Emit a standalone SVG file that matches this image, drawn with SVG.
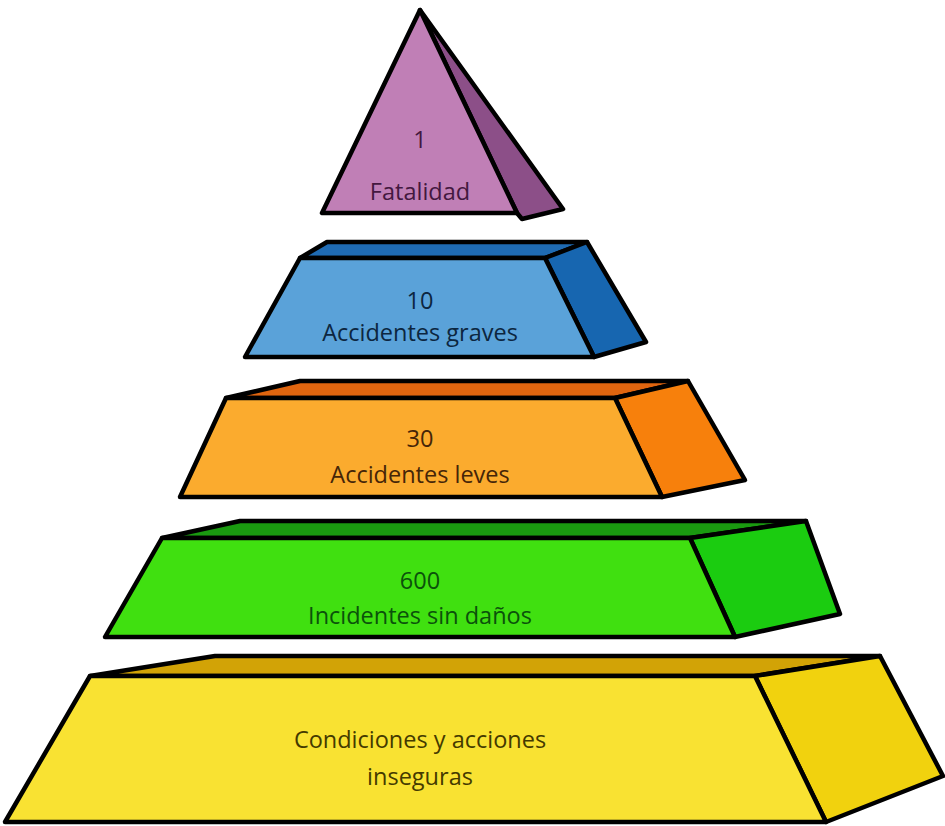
<svg xmlns="http://www.w3.org/2000/svg" width="945" height="826" viewBox="0 0 945 826">
<style>
.e{stroke:#000;stroke-width:4.5;stroke-linejoin:round}
.t{font-family:"Open Sans","Noto Sans",sans-serif;font-size:23.5px;text-anchor:middle}
</style>
<rect width="945" height="826" fill="#fff"/>
<g id="fatalidad">
<polygon class="e" points="420,10 563,209 522,219 517,213" fill="#8c4f88"/>
<polygon class="e" points="420,10 322,213 517,213" fill="#c07fb6"/>
<text class="t" x="420" y="148" fill="#43183f">1</text>
<text class="t" x="420" y="200" fill="#43183f">Fatalidad</text>
</g>
<g id="graves">
<polygon class="e" points="300,258 327,242 587,242 545,258" fill="#1f6bb3"/>
<polygon class="e" points="545,258 587,242 646,342 594,357" fill="#1766b0"/>
<polygon class="e" points="300,258 545,258 594,357 245,357" fill="#5aa2d9"/>
<text class="t" x="420" y="309" fill="#0c2640">10</text>
<text class="t" x="420" y="341" fill="#0c2640">Accidentes graves</text>
</g>
<g id="leves">
<polygon class="e" points="226,398 300,381 688,381 615,398" fill="#e0650f"/>
<polygon class="e" points="615,398 688,381 745,480 662,497" fill="#f7800c"/>
<polygon class="e" points="226,398 615,398 662,497 180,497" fill="#fbab2e"/>
<text class="t" x="420" y="447" fill="#452508">30</text>
<text class="t" x="420" y="483" fill="#452508">Accidentes leves</text>
</g>
<g id="incidentes">
<polygon class="e" points="162,538 240,521 806,521 690,538" fill="#1a9a10"/>
<polygon class="e" points="690,538 806,521 840,614 735,637" fill="#1bcc10"/>
<polygon class="e" points="162,538 690,538 735,637 105,637" fill="#40e010"/>
<text class="t" x="420" y="589" fill="#0b520b">600</text>
<text class="t" x="420" y="624" fill="#0b520b">Incidentes sin daños</text>
</g>
<g id="condiciones">
<polygon class="e" points="90,676 215,656 880,656 755,676" fill="#d2a306"/>
<polygon class="e" points="755,676 880,656 943,776 826,822" fill="#f1d20e"/>
<polygon class="e" points="90,676 755,676 826,822 5,822" fill="#f9e232"/>
<text class="t" x="420" y="748" fill="#443a00">Condiciones y acciones</text>
<text class="t" x="420" y="785" fill="#443a00">inseguras</text>
</g>
<g id="connectors"/>
</svg>
